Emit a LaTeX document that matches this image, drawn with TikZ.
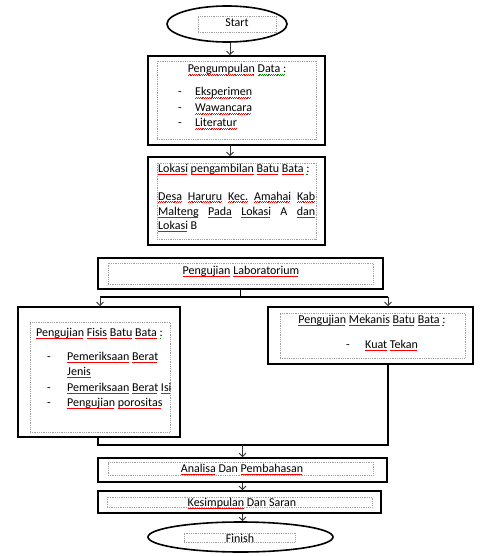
\documentclass[tikz,border=0pt]{standalone}
\usepackage{fontspec}
\setmainfont{Carlito}
\usetikzlibrary{shapes.geometric,arrows.meta,calc}
\newcommand\wv[2]{\setbox0\hbox{#2}\leavevmode\rlap{\lower2.6pt\hbox to\wd0{\color{#1}\leaders\hbox{\vrule width0.9pt height0.3pt depth0.3pt\raise0.8pt\hbox{\vrule width0.9pt height0.3pt depth0.3pt}}\hfill}}\box0\relax}
\newcommand\rw{\wv{red}}
\newcommand\gw{\wv{green!55!black}}
\begin{document}
\begin{tikzpicture}[x=1pt,y=-1pt,font=\fontsize{12}{15}\selectfont,
  box/.style={draw,line width=1.6pt,rectangle,inner sep=0pt},
  tb/.style={draw=gray!75,densely dotted,line width=0.8pt,rectangle,inner sep=0pt},
  oval/.style={draw,ellipse,line width=1.6pt,inner sep=0pt},
  txt/.style={inner sep=0pt,text height=8.5pt,text depth=2.5pt},
  arr/.style={-{Straight Barb[length=3.5pt,width=7pt]},line width=0.9pt,draw=black!80},
  link/.style={line width=1.5pt}]
\useasboundingbox (0,0) rectangle (482,556);

% Start
\node[oval,minimum width=120,minimum height=36] (start) at (227,24) {};
\node[tb,minimum width=78,minimum height=16] (startt) at (237,24) {};
\node[txt] (startl) at (237,24) {Start};

% Box 1
\node[box,minimum width=177,minimum height=89] (b1) at (236.5,100.5) {};
\node[tb,minimum width=159,minimum height=78] (b1t) at (236.5,100) {};
\node[txt] (b1h) at (237,70) {\rw{Pengumpulan} \gw{Data :}};
\node[txt] (b1d1) at (180,93) {-};
\node[txt] (b1d2) at (180,109) {-};
\node[txt] (b1d3) at (180,124) {-};
\node[txt,anchor=west] (b1i1) at (195,93) {\rw{Eksperimen}};
\node[txt,anchor=west] (b1i2) at (195,109) {\rw{Wawancara}};
\node[txt,anchor=west] (b1i3) at (195,124) {\rw{Literatur}};

% Box 2
\node[box,minimum width=177,minimum height=88] (b2) at (236.5,201) {};
\node[tb,minimum width=159,minimum height=76] (b2t) at (236.5,201) {};
\node[txt,anchor=west] (b2h) at (158,169) {\rw{Lokasi} \rw{pengambilan} \rw{Batu} \rw{Bata} \gw{:}};
\node[txt,anchor=west] (b2l1) at (158,197) {\makebox[157pt][s]{\rw{Desa} \rw{Haruru} \rw{Kec.} \rw{Amahai} \rw{Kab}}};
\node[txt,anchor=west] (b2l2) at (158,212) {\makebox[157pt][s]{\rw{Malteng} \rw{Pada} \rw{Lokasi} A \rw{dan}}};
\node[txt,anchor=west] (b2l3) at (158,226) {\rw{Lokasi} B};

% Box 3
\node[box,minimum width=285,minimum height=31] (lab) at (240.5,273.5) {};
\node[tb,minimum width=265,minimum height=21] (labt) at (240.5,273.5) {};
\node[txt] (labl) at (241,271) {\rw{Pengujian} \rw{Laboratorium}};

% Left box
\node[box,minimum width=162,minimum height=130] (fis) at (99,372) {};
\node[tb,minimum width=140,minimum height=110] (fist) at (100,377) {};
\node[txt,anchor=west] (fish) at (36,333) {\rw{Pengujian} \rw{Fisis} \rw{Batu} \rw{Bata} \gw{:}};
\node[txt] (fisd1) at (49,357) {-};
\node[txt] (fisd2) at (49,388) {-};
\node[txt] (fisd3) at (49,403) {-};
\node[txt,anchor=west] (fisi1) at (67,357) {\rw{Pemeriksaan} \rw{Berat}};
\node[txt,anchor=west] (fisi1b) at (67,372) {\rw{Jenis}};
\node[txt,anchor=west] (fisi2) at (67,388) {\rw{Pemeriksaan} \rw{Berat} \rw{Isi}};
\node[txt,anchor=west] (fisi3) at (67,403) {\rw{Pengujian} \rw{porositas}};

% Right box
\node[box,minimum width=205,minimum height=57] (mek) at (370.5,335.5) {};
\node[tb,minimum width=185,minimum height=45] (mekt) at (372.5,335.5) {};
\node[txt] (mekh) at (372,320) {\rw{Pengujian} \rw{Mekanis} \rw{Batu} \rw{Bata} \gw{:}};
\node[txt] (mekd) at (348,345) {-};
\node[txt,anchor=west] (meki) at (365,345) {\rw{Kuat} \rw{Tekan}};

% Analisa
\node[box,minimum width=289,minimum height=24] (ana) at (242.5,470) {};
\node[tb,minimum width=265,minimum height=13] (anat) at (240.5,468.5) {};
\node[txt] (anal) at (242,469) {\rw{Analisa} Dan \rw{Pembahasan}};

% Kesimpulan
\node[box,minimum width=283,minimum height=22] (kes) at (239.5,502) {};
\node[tb,minimum width=265,minimum height=10] (kest) at (239.5,502) {};
\node[txt] (kesl) at (242,503) {\rw{Kesimpulan} Dan Saran};

% Finish
\node[oval,minimum width=185,minimum height=30] (fin) at (240.5,537) {};
\node[tb,minimum width=111,minimum height=9] (fint) at (239.5,537.5) {};
\node[txt] (finl) at (240,539) {Finish};

% Connectors
\coordinate (s0) at ($(start.south)+(3,0)$);
\draw[arr] (s0) -- (s0 |- b1.north);
\coordinate (c1) at ($(b1.south)+(-6.5,0)$);
\draw[arr] (c1) -- (c1 |- b2.north);

\coordinate (bl) at (100,297);
\coordinate (br) at (388,297);
\draw[link] (lab.south) -- (lab.south |- bl);
\draw[link] (bl) -- (br);
\draw[arr] (bl) -- (bl |- fis.north);
\draw[arr] (br) -- (br |- mek.north);

\coordinate (ml) at (98,445);
\coordinate (mr) at (388,445);
\draw[link] (ml |- fis.south) -- (ml) -- (mr) -- (mr |- mek.south);
\draw[arr] (ana.north |- ml) -- (ana.north);
\draw[arr] (ana.south) -- (ana.south |- kes.north);
\coordinate (k0) at (kes.south -| ana.south);
\draw[arr] (k0) -- (k0 |- fin.north);
\end{tikzpicture}
\end{document}
